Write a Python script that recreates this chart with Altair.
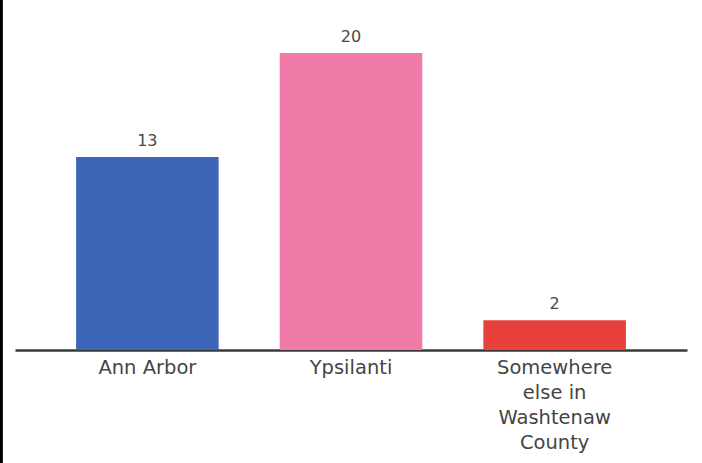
import altair as alt
import pandas as pd

categories = ["Ann Arbor", "Ypsilanti", "Somewhere|else in|Washtenaw|County"]
values = [13, 20, 2]
colors = ["#3D66B8", "#F07BA8", "#E8403A"]

df = pd.DataFrame({"place": categories, "count": values, "color": colors})

W, H = 672, 297
FONT = "DejaVu Sans"

x = alt.X("place:N", sort=categories,
          scale=alt.Scale(paddingInner=0.3, paddingOuter=0.3),
          axis=alt.Axis(title=None, labelExpr="split(datum.label, '|')",
                        labelAngle=0, labelFontSize=19.5, labelColor="#454545",
                        labelFont=FONT, labelLineHeight=25, labelPadding=8,
                        ticks=False, domainColor="#3a3a3a", domainWidth=2.5,
                        labelBaseline="top"))
y = alt.Y("count:Q", scale=alt.Scale(domain=[0, 20], nice=False),
          axis=None)

bars = alt.Chart(df).mark_bar().encode(
    x=x, y=y, color=alt.Color("color:N", scale=None)
)
labels = alt.Chart(df).mark_text(dy=-16, fontSize=16, font=FONT,
                                 color="#4a4a4a").encode(
    x=x, y=y, text="count:Q"
)
border = alt.Chart(df).mark_rule(color="black", strokeWidth=3).encode(
    x=alt.value(-14), y=alt.value(-60), y2=alt.value(H + 120)
)

chart = alt.layer(bars, labels, border).properties(
    width=W, height=H,
    background="white",
    padding={"left": 15, "top": 53, "right": 15, "bottom": 113},
    autosize=alt.AutoSizeParams(type="none"),
).configure_view(strokeWidth=0, stroke=None)

chart.save("out.html", embed_options={"renderer": "svg", "actions": False})
